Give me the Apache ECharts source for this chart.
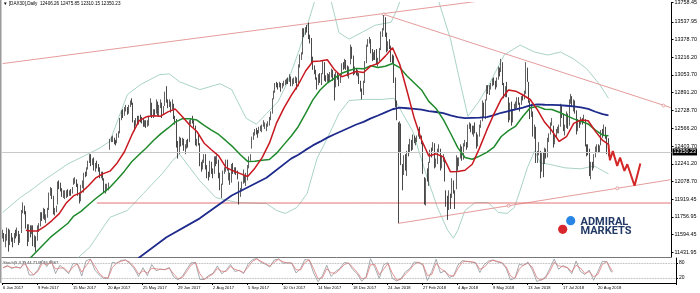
<!DOCTYPE html>
<html><head><meta charset="utf-8">
<script src="https://cdn.jsdelivr.net/npm/echarts@6/dist/echarts.min.js"></script>
<style>html,body{margin:0;padding:0;background:#fff}#c{width:700px;height:293px}</style>
</head><body><div id="c"></div>
<script>
// ---------- tick labels ----------
const symbolName = '[DAX30],Daily';
const xTickLabels = ['6 Jan 2017','9 Feb 2017','15 Mar 2017','20 Apr 2017','25 May 2017','29 Jun 2017','2 Aug 2017','5 Sep 2017','10 Oct 2017','14 Nov 2017','18 Dec 2017','24 Jan 2018','27 Feb 2018','4 Apr 2018','9 May 2018','13 Jun 2018','17 Jul 2018','20 Aug 2018'];
const xTickEvery = 24;
const yTickLabels = ['11431.95','11594.45','11756.95','11919.45','12078.70','12241.20','12403.70','12566.20','12728.70','12891.20','13053.70','13216.20','13378.70','13537.95','13758.45'];
const stochTickValues = [20, 80];
const stochLabel = 'Stoch(5,3,3) 44.7148 46.8667';

// ---------- daily candles (bar 0 = 6 Jan 2017 ... bar 418 = 3 Sep 2018) ----------
const opens = [
11590,11600,11560,11585,11640,11525,11600,11555,11545,11600,
11600,11620,11550,11620,11810,11850,11800,11670,11550,11660,
11630,11650,11510,11550,11550,11650,11680,11775,11770,11800,
11750,11770,11830,11970,11995,11940,11810,11820,11880,12070,
12050,12000,11960,11965,11970,11980,11970,11990,11990,12060,
12080,12090,12050,11960,11910,12040,12050,12150,12150,12200,
12260,12310,12250,12280,12210,12230,12220,12200,12140,12150,
12100,12000,12020,12030,12380,12460,12470,12470,12440,12440,
12510,12530,12650,12730,12690,12750,12750,12710,12770,12810,
12790,12620,12600,12640,12620,12660,12640,12620,12600,12620,
12600,12610,12690,12780,12690,12720,12720,12800,12690,12770,
12790,12700,12780,12890,12810,12780,12790,12750,12770,12650,
12640,12410,12340,12470,12440,12450,12380,12400,12440,12450,
12630,12640,12620,12580,12440,12450,12420,12230,12210,12270,
12310,12200,12160,12130,12250,12180,12160,12290,12260,12270,
12140,12000,12060,12170,12180,12260,12150,12150,12080,12230,
12170,12180,12160,12070,11960,12010,12070,12110,12100,12110,
12220,12290,12390,12480,12520,12550,12530,12540,12560,12560,
12600,12590,12580,12600,12610,12650,12710,12840,12910,12970,
12960,12960,12970,12950,12970,12980,12990,13000,13000,13030,
12990,12990,13000,13010,12960,13140,13220,13250,13460,13440,
13480,13470,13400,13380,13180,13120,13070,13020,12980,13040,
12970,13070,13160,13020,13010,13050,13000,13060,13070,13020,
12950,13050,13040,13000,13060,13150,13130,13180,13120,13060,
13160,13300,13210,13080,13100,13060,13060,12980,12900,12880,
12990,13170,13330,13370,13370,13280,13210,13250,13200,13180,
13190,13290,13430,13470,13550,13420,13300,13340,13310,13190,
13190,13000,12760,12550,12400,12580,12180,12150,12280,12200,
12380,12360,12440,12400,12480,12440,12460,12500,12530,12480,
12420,12100,11900,12120,12100,12260,12370,12380,12420,12230,
12250,12350,12370,12230,12300,12280,11990,11900,11830,11950,
11950,12080,11960,12020,12290,12250,12300,12380,12300,12420,
12420,12400,12590,12590,12560,12550,12580,12520,12440,12510,
12590,12640,12790,12680,12830,12940,12900,12940,12960,13000,
12980,12960,13020,13110,13090,13160,12960,12870,12950,12840,
12660,12770,12650,12750,12770,12790,12830,12790,12790,12850,
12850,12890,13100,12980,12800,12690,12700,12510,12570,12280,
12340,12350,12180,12300,12260,12340,12330,12470,12520,12610,
12580,12430,12500,12540,12560,12590,12750,12670,12540,12580,
12680,12600,12820,12850,12790,12810,12720,12560,12600,12610,
12640,12640,12640,12400,12360,12360,12140,12240,12220,12320,
12380,12390,12360,12420,12530,12520,12560,12490,12406.26];
const highs = [
11640,11610,11600,11660,11650,11640,11610,11570,11610,11640,
11660,11630,11600,11820,11890,11860,11810,11690,11690,11680,
11680,11680,11590,11580,11680,11700,11800,11800,11840,11830,
11780,11840,11980,12030,12020,11950,11840,11860,12080,12090,
12070,12020,12000,12000,12000,12010,12000,12010,12030,12110,
12120,12100,12060,11980,12050,12090,12160,12170,12210,12270,
12330,12330,12290,12300,12250,12270,12240,12210,12170,12170,
12110,12060,12060,12070,12470,12490,12500,12480,12460,12520,
12540,12660,12730,12740,12760,12780,12760,12780,12820,12840,
12800,12640,12660,12680,12680,12690,12670,12650,12640,12640,
12640,12680,12840,12800,12740,12740,12830,12810,12780,12830,
12800,12770,12900,12950,12830,12830,12810,12830,12790,12680,
12650,12450,12490,12480,12480,12470,12420,12460,12470,12640,
12660,12680,12640,12590,12470,12510,12430,12260,12280,12330,
12330,12230,12170,12270,12260,12200,12310,12310,12320,12280,
12160,12060,12180,12210,12280,12280,12200,12160,12240,12250,
12210,12210,12180,12080,12020,12080,12190,12130,12160,12230,
12310,12330,12490,12530,12560,12570,12550,12580,12590,12600,
12640,12620,12610,12630,12670,12720,12840,12910,12980,12990,
12980,12990,12980,12980,13000,13010,13020,13030,13060,13040,
13020,13030,13040,13030,13150,13240,13260,13480,13480,13490,
13510,13530,13420,13390,13220,13140,13100,13030,13060,13070,
13070,13180,13170,13050,13070,13060,13080,13110,13100,13060,
13080,13080,13050,13060,13160,13170,13200,13190,13140,13130,
13330,13310,13230,13130,13110,13100,13070,13000,12930,13000,
13180,13330,13380,13400,13380,13290,13260,13280,13290,13210,
13300,13450,13480,13600,13580,13440,13360,13380,13320,13240,
13230,13030,12820,12620,12630,12610,12240,12320,12330,12360,
12420,12470,12460,12510,12500,12480,12500,12560,12580,12500,
12440,12120,12110,12200,12260,12370,12390,12440,12430,12290,
12380,12420,12380,12320,12330,12300,12000,11950,12000,11970,
12110,12090,12000,12320,12300,12300,12420,12400,12430,12460,
12440,12600,12620,12610,12590,12590,12620,12530,12510,12600,
12640,12820,12800,12830,12960,12960,12960,12980,13020,13030,
13000,13030,13130,13120,13200,13170,12980,12950,12990,12850,
12800,12810,12740,12790,12810,12850,12850,12800,12860,12880,
12910,13170,13120,12990,12820,12790,12720,12600,12580,12360,
12440,12360,12340,12350,12390,12380,12480,12520,12620,12660,
12590,12510,12560,12580,12600,12790,12780,12700,12600,12720,
12700,12830,12880,12860,12830,12820,12730,12650,12630,12670,
12660,12690,12650,12420,12420,12380,12260,12260,12330,12400,
12420,12420,12410,12550,12560,12600,12580,12500,12475.85];
const lows = [
11560,11530,11480,11540,11440,11500,11530,11480,11520,11560,
11580,11500,11520,11610,11790,11780,11650,11490,11530,11570,
11600,11490,11480,11440,11540,11620,11670,11720,11740,11730,
11700,11750,11820,11950,11920,11780,11770,11800,11870,12010,
11990,11940,11930,11920,11930,11940,11950,11950,11970,12050,
12060,12030,11950,11880,11900,12020,11980,12120,12130,12190,
12250,12220,12230,12180,12170,12200,12170,12110,12110,12090,
11980,11970,11990,12000,12370,12440,12440,12420,12410,12430,
12480,12520,12640,12660,12680,12720,12690,12700,12760,12780,
12620,12540,12590,12600,12600,12620,12610,12580,12580,12570,
12580,12590,12680,12660,12660,12680,12700,12680,12670,12750,
12660,12690,12770,12800,12750,12760,12710,12740,12650,12600,
12390,12290,12330,12400,12410,12360,12330,12380,12390,12440,
12600,12610,12570,12410,12400,12410,12220,12170,12190,12250,
12190,12110,12090,12120,12150,12110,12150,12220,12240,12110,
12000,11930,12050,12150,12170,12180,12090,12050,12070,12150,
12150,12140,12100,11870,11940,11990,12060,12070,12040,12090,
12200,12270,12380,12460,12500,12510,12480,12520,12540,12530,
12580,12560,12540,12580,12590,12640,12700,12830,12890,12940,
12920,12940,12900,12930,12950,12960,12970,12970,12990,12950,
12950,12970,12980,12920,12950,13120,13190,13240,13400,13420,
13440,13380,13340,13160,13100,13060,13010,12920,12960,12980,
12960,13060,13000,12990,12990,12980,12990,13030,13000,12820,
12940,13010,12950,12980,13050,13100,13110,13100,13040,13020,
13150,13200,13050,13060,13050,13040,12970,12900,12830,12870,
12980,13160,13310,13340,13250,13180,13190,13190,13150,13130,
13180,13280,13400,13460,13400,13260,13270,13290,13170,13160,
12980,12760,12640,11700,12340,12230,12000,12140,12180,12130,
12310,12340,12360,12370,12430,12410,12440,12490,12470,12420,
12150,11870,11860,12080,12040,12250,12300,12360,12200,12210,
12240,12340,12180,12200,12260,12080,11850,11730,11820,11830,
11930,11970,11830,12010,12180,12220,12290,12270,12280,12400,
12370,12390,12560,12530,12510,12490,12520,12380,12400,12490,
12570,12630,12670,12650,12820,12880,12870,12920,12950,12960,
12920,12940,13010,13040,13080,12960,12840,12850,12850,12620,
12640,12590,12620,12730,12740,12750,12780,12720,12780,12820,
12830,12880,12990,12800,12650,12670,12490,12470,12250,12250,
12320,12110,12170,12120,12240,12290,12300,12440,12510,12590,
12390,12420,12480,12520,12520,12580,12660,12540,12500,12570,
12560,12590,12790,12760,12720,12700,12510,12540,12570,12600,
12600,12620,12400,12310,12320,12130,12100,12180,12200,12300,
12350,12340,12350,12410,12480,12500,12470,12330,12310.15];
const closes = [
11599,11563,11583,11646,11522,11629,11555,11540,11599,11597,
11630,11545,11594,11806,11848,11814,11681,11535,11659,11627,
11651,11509,11549,11543,11643,11666,11774,11771,11794,11757,
11757,11828,11967,11998,11948,11804,11823,11834,12067,12060,
12027,11958,11966,11967,11978,11963,11990,11989,12009,12083,
12095,12052,11962,11904,12040,12064,12149,12149,12203,12257,
12313,12257,12282,12218,12230,12225,12200,12139,12154,12109,
12000,12017,12027,12049,12455,12467,12473,12443,12438,12507,
12528,12648,12717,12694,12749,12757,12711,12770,12808,12804,
12631,12590,12638,12620,12659,12642,12621,12602,12629,12599,
12615,12664,12823,12690,12720,12714,12816,12690,12765,12806,
12691,12752,12889,12815,12774,12794,12733,12771,12671,12647,
12416,12325,12475,12437,12453,12381,12389,12445,12437,12627,
12641,12631,12587,12430,12452,12447,12240,12208,12264,12305,
12212,12162,12118,12251,12181,12154,12298,12258,12292,12154,
12014,12014,12165,12177,12263,12203,12165,12065,12229,12174,
12180,12168,12123,11946,12002,12056,12143,12102,12124,12215,
12296,12304,12476,12524,12553,12540,12519,12560,12561,12570,
12600,12592,12595,12605,12657,12704,12829,12902,12970,12968,
12955,12976,12949,12970,12982,12991,13004,12995,13043,12990,
12991,13003,13013,12953,13134,13217,13229,13465,13440,13478,
13469,13406,13382,13183,13127,13074,13033,12976,13047,12994,
13059,13167,13015,13008,13060,13000,13060,13062,13024,12861,
13059,13048,12999,13045,13153,13124,13183,13126,13068,13104,
13312,13215,13069,13110,13073,13070,12979,12918,12871,12978,
13167,13320,13367,13385,13281,13202,13245,13201,13184,13184,
13281,13434,13463,13560,13414,13298,13340,13324,13197,13189,
13004,12785,12687,12392,12590,12260,12107,12282,12197,12339,
12346,12451,12385,12487,12470,12461,12483,12527,12490,12435,
12190,11913,12090,12113,12245,12355,12346,12418,12221,12237,
12345,12389,12217,12307,12309,12100,11886,11787,11970,11940,
12096,12002,11957,12305,12241,12261,12397,12293,12415,12442,
12391,12585,12590,12567,12540,12572,12550,12422,12500,12580,
12612,12802,12696,12819,12948,12912,12943,12956,13001,12978,
12970,13010,13114,13077,13169,12977,12855,12938,12863,12666,
12783,12605,12724,12770,12787,12830,12811,12767,12842,12842,
12890,13107,13011,12834,12677,12695,12512,12580,12270,12334,
12349,12177,12306,12238,12349,12317,12465,12496,12609,12633,
12418,12492,12541,12561,12580,12766,12686,12561,12548,12689,
12579,12810,12860,12799,12805,12737,12546,12616,12597,12648,
12634,12676,12424,12358,12358,12163,12237,12210,12309,12384,
12385,12366,12394,12538,12527,12561,12494,12364,12350.23];

// ---------- indicator lines: [bar, value] ----------
const ma20Red = [[16,11635],[19,11629],[24,11628],[29,11670],[34,11724],[39,11787],[44,11887],[49,11951],[54,11979],[59,12040],[64,12111],[69,12150],[74,12175],[79,12250],[84,12352],[89,12503],[94,12633],[99,12671],[104,12680],[109,12677],[114,12716],[119,12742],[124,12672],[129,12596],[134,12537],[139,12430],[144,12370],[149,12314],[154,12209],[159,12178],[164,12152],[169,12126],[174,12202],[179,12298],[184,12430],[189,12616],[194,12750],[199,12864],[204,12966],[209,13089],[214,13176],[219,13181],[224,13192],[229,13100],[234,13037],[239,13061],[244,13085],[249,13075],[254,13136],[259,13157],[264,13225],[269,13302],[274,13149],[279,12907],[284,12657],[289,12459],[294,12314],[299,12333],[304,12305],[309,12169],[314,12171],[319,12183],[324,12238],[329,12385],[334,12549],[339,12698],[344,12832],[349,12915],[354,12905],[359,12870],[364,12829],[369,12734],[374,12621],[379,12543],[384,12446],[389,12489],[394,12611],[399,12642],[404,12635],[409,12538],[414,12455],[418,12419]];
const ma50Green = [[19,11382],[33,11572],[45,11699],[49,11765],[54,11808],[59,11866],[64,11923],[69,11974],[74,12027],[79,12098],[84,12175],[89,12260],[94,12325],[99,12386],[104,12455],[109,12515],[114,12567],[119,12623],[124,12654],[129,12653],[134,12641],[139,12593],[144,12549],[149,12510],[154,12453],[159,12394],[164,12324],[169,12264],[174,12265],[179,12274],[184,12281],[189,12339],[194,12417],[199,12494],[204,12583],[209,12703],[214,12826],[219,12916],[224,12979],[229,13024],[234,13069],[239,13094],[244,13113],[249,13109],[254,13137],[259,13121],[264,13133],[269,13157],[274,13120],[279,13044],[284,12980],[289,12916],[294,12812],[299,12747],[304,12648],[309,12521],[314,12390],[319,12299],[324,12284],[329,12312],[334,12347],[339,12395],[344,12491],[349,12545],[354,12587],[359,12676],[364,12754],[369,12766],[374,12740],[379,12738],[384,12713],[389,12682],[394,12652],[399,12629],[404,12605],[409,12549],[414,12503],[418,12497]];
const ma200Blue = [[90,11345],[113,11572],[136,11744],[158,11952],[182,12114],[199,12289],[204,12325],[209,12369],[214,12410],[219,12444],[224,12481],[229,12512],[234,12541],[239,12571],[244,12601],[249,12625],[254,12657],[259,12683],[264,12712],[269,12740],[274,12755],[279,12749],[284,12743],[289,12736],[294,12723],[299,12715],[304,12705],[309,12685],[314,12668],[319,12659],[324,12662],[329,12664],[334,12669],[339,12686],[344,12708],[349,12724],[354,12739],[359,12755],[364,12776],[369,12784],[374,12781],[379,12780],[384,12777],[389,12772],[394,12767],[399,12757],[404,12744],[409,12717],[414,12695],[418,12683]];
const bbUpper = [[0,11798],[12,11933],[21,12015],[28,12087],[38,12178],[45,12241],[56,12313],[67,12386],[74,12449],[86,12874],[95,12964],[108,13055],[115,13063],[122,12991],[136,12919],[150,12973],[158,12919],[168,12657],[175,12603],[182,12700],[190,12810],[197,13000],[204,13260],[210,13500],[216,13760],[226,13760],[232,13440],[239,13380],[248,13443],[257,13507],[268,13534],[272,13650],[275,13760],[300,13760],[309,13380],[316,12964],[321,12675],[328,12800],[335,12950],[346,13235],[357,13326],[367,13262],[376,13235],[385,13262],[394,13199],[403,13109],[412,12964],[418,12840]];
const bbLower = [[51,11373],[60,11480],[74,11753],[86,11816],[97,11970],[110,12151],[117,12268],[122,12331],[136,12087],[147,11934],[162,11888],[182,11879],[189,11816],[195,11789],[203,11843],[210,11970],[217,12295],[223,12449],[232,12700],[239,12820],[250,12830],[261,12829],[270,12840],[276,12700],[283,12539],[292,12151],[300,11843],[307,11635],[311,11563],[314,11635],[319,11816],[326,11888],[335,11888],[342,11798],[348,11789],[353,11843],[357,11997],[362,12205],[367,12358],[371,12250],[376,12241],[388,12205],[399,12196],[408,12223],[418,12150]];
const stochMain = [[0,60],[3,71],[6,58],[9,65],[12,59],[15,88],[18,32],[21,32],[24,54],[27,91],[30,66],[33,92],[36,38],[39,71],[42,55],[45,37],[48,78],[51,76],[54,28],[57,89],[60,96],[63,52],[66,32],[69,18],[72,19],[75,83],[78,79],[81,91],[84,92],[87,78],[90,57],[93,26],[96,61],[99,30],[102,74],[105,49],[108,56],[111,53],[114,62],[117,25],[120,13],[123,27],[126,55],[129,81],[132,82],[135,14],[138,14],[141,30],[144,39],[147,68],[150,37],[153,51],[156,74],[159,46],[162,51],[165,38],[168,75],[171,93],[174,98],[177,82],[180,75],[183,64],[186,92],[189,96],[192,79],[195,81],[198,79],[201,40],[204,58],[207,94],[210,92],[213,40],[216,5],[219,29],[222,71],[225,26],[228,46],[231,58],[234,82],[237,79],[240,53],[243,36],[246,7],[249,26],[252,97],[255,62],[258,18],[261,73],[264,81],[267,18],[270,8],[273,19],[276,45],[279,57],[282,84],[285,82],[288,71],[291,10],[294,46],[297,95],[300,40],[303,49],[306,22],[309,29],[312,72],[315,90],[318,86],[321,84],[324,81],[327,42],[330,74],[333,88],[336,92],[339,84],[342,81],[345,59],[348,12],[351,19],[354,75],[357,70],[360,84],[363,53],[366,6],[369,13],[372,24],[375,58],[378,96],[381,55],[384,70],[387,60],[390,37],[393,88],[396,46],[399,34],[402,52],[405,11],[408,47],[411,87],[414,86],[417,45],[418,44.71]];
const stochSignal = [[0,62],[3,67],[6,62],[9,63],[12,61],[15,78],[18,51],[21,32],[24,47],[27,79],[30,74],[33,83],[36,56],[39,60],[42,60],[45,43],[48,64],[51,77],[54,44],[57,69],[60,94],[63,67],[66,39],[69,23],[72,19],[75,62],[78,80],[81,87],[84,92],[87,83],[90,64],[93,36],[96,49],[99,40],[102,59],[105,57],[108,54],[111,54],[114,59],[117,37],[120,17],[123,22],[126,46],[129,72],[132,82],[135,37],[138,14],[141,25],[144,36],[147,58],[150,47],[153,46],[156,66],[159,55],[162,49],[165,42],[168,63],[171,87],[174,96],[177,87],[180,77],[183,68],[186,83],[189,95],[192,85],[195,80],[198,80],[201,53],[204,52],[207,82],[210,93],[213,57],[216,17],[219,21],[222,57],[225,41],[228,39],[231,54],[234,74],[237,80],[240,62],[243,42],[246,17],[249,20],[252,73],[255,74],[258,33],[261,55],[264,78],[267,39],[270,11],[273,15],[276,36],[279,53],[282,75],[285,83],[288,75],[291,30],[294,34],[297,79],[300,58],[303,46],[306,31],[309,27],[312,58],[315,84],[318,87],[321,85],[324,82],[327,55],[330,63],[333,83],[336,91],[339,87],[342,82],[345,66],[348,28],[351,17],[354,56],[357,72],[360,79],[363,63],[366,22],[369,11],[372,20],[375,47],[378,83],[381,69],[384,65],[387,63],[390,45],[393,71],[396,60],[399,38],[402,46],[405,25],[408,35],[411,74],[414,86],[417,56],[418,46.87]];

// ---------- drawn objects ----------
const trendUpper = [[0,13157],[330,13730]];
const trendDown = [[263,13606],[461,12755]];
const trendRising = [[273,11698],[461,12097]];
const supportLine = [[65,11884],[461,11884]];
const trendAnchors = [[263,13606],[456,12774],[349,11859],[424,12018]];
const projection = [[418,12419],[419,12274],[421,12358],[424,12223],[426,12298],[429,12178],[431,12238],[436,12042],[440,12244]];

// ---------- build ----------
const N_SLOTS = 462;
const categories = Array.from({length: N_SLOTS}, (_, i) => String(i));
const candles = opens.map((o, i) => [o, closes[i], lows[i], highs[i]]);
const last = opens.length - 1;
const lastClose = closes[last];
const yMax = 13714.5, yMin = 11391.2;
const yTickValues = yTickLabels.map(s => Math.min(parseFloat(s), yMax));
const FONT = 'Liberation Sans, Arial, sans-serif';
const isTick = (i) => i % xTickEvery === 0 && i / xTickEvery < xTickLabels.length;

const lineS = (name, data, color, width, z, extra) => Object.assign({
  name, type: 'line', data, xAxisIndex: 0, yAxisIndex: 0, showSymbol: false, symbol: 'none',
  lineStyle: { color, width }, z, silent: true, animation: false
}, extra || {});

const chart = echarts.init(document.getElementById('c'), null, { renderer: 'canvas' });
chart.setOption({
  animation: false,
  backgroundColor: '#ffffff',
  grid: [
    { left: 2, right: 24, top: 0, height: 257 },
    { left: 2, right: 24, top: 258, height: 25 }
  ],
  xAxis: [
    { type: 'category', gridIndex: 0, data: categories, boundaryGap: true,
      axisLine: { show: true, lineStyle: { color: '#777', width: 1 } },
      axisTick: { show: false }, axisLabel: { show: false }, splitLine: { show: false } },
    { type: 'category', gridIndex: 1, data: categories, boundaryGap: true,
      axisLine: { show: true, lineStyle: { color: '#000', width: 1 } },
      axisTick: { show: true, length: 2, interval: (i) => isTick(i), lineStyle: { color: '#000' } },
      axisLabel: { show: true, interval: (i) => isTick(i), align: 'left', margin: 2.5,
        formatter: (v, i) => xTickLabels[i / xTickEvery] || '', fontSize: 4.1, color: '#000', fontFamily: FONT },
      splitLine: { show: false } }
  ],
  yAxis: [
    { type: 'value', gridIndex: 0, position: 'right', min: yMin, max: yMax, scale: true,
      axisLine: { show: true, lineStyle: { color: '#000', width: 1 } },
      axisTick: { show: true, length: 2, customValues: yTickValues, lineStyle: { color: '#000' } },
      axisLabel: { show: true, customValues: yTickValues, margin: 3, fontSize: 5.4, color: '#000', fontFamily: FONT,
        formatter: (v) => v >= yMax ? yTickLabels[yTickLabels.length - 1] : v.toFixed(2) },
      splitLine: { show: false } },
    { type: 'value', gridIndex: 1, position: 'right', min: 0, max: 100,
      axisLine: { show: true, lineStyle: { color: '#000', width: 1 } },
      axisTick: { show: true, length: 2, customValues: stochTickValues, lineStyle: { color: '#000' } },
      axisLabel: { show: true, customValues: stochTickValues, margin: 3, fontSize: 5, color: '#000', fontFamily: FONT },
      splitLine: { show: false } }
  ],
  series: [
    lineS('BB upper', bbUpper, '#a9d3c6', 1, 2),
    lineS('BB lower', bbLower, '#a9d3c6', 1, 2),
    lineS('Trend upper', trendUpper, '#e59c9c', 1, 3),
    lineS('Trend down', trendDown, '#e59c9c', 1, 3),
    lineS('Trend rising', trendRising, '#e59c9c', 1, 3),
    lineS('Support', supportLine, '#e57373', 1, 3),
    { name: 'Trend anchors', type: 'scatter', xAxisIndex: 0, yAxisIndex: 0, data: trendAnchors, symbol: 'circle', symbolSize: 3,
      itemStyle: { color: '#ffffff', borderColor: '#d98080', borderWidth: 0.8 }, z: 3, silent: true },
    {
      name: symbolName, type: 'candlestick', xAxisIndex: 0, yAxisIndex: 0, data: candles, z: 4,
      barWidth: '75%', silent: true, animation: false,
      itemStyle: { color: '#9a9a9a', color0: '#1a1a1a', borderColor: '#3a3a3a', borderColor0: '#1a1a1a', borderWidth: 0.8 },
      markLine: { silent: true, symbol: ['none', 'none'], animation: false,
        data: [{ yAxis: lastClose, lineStyle: { color: '#c8c8c8', width: 1, type: 'solid' },
          label: { show: true, position: 'end', distance: 1, formatter: lastClose.toFixed(2),
            backgroundColor: '#000', color: '#fff', fontSize: 5.4, padding: [1, 1], fontFamily: FONT } }] }
    },
    lineS('MA 200', ma200Blue, '#1e2a8c', 1.8, 5),
    lineS('MA 50', ma50Green, '#1f8a2c', 1.5, 6),
    lineS('MA 20', ma20Red, '#c8181f', 1.5, 7),
    lineS('Projection', projection, '#d42828', 2, 8),
    { name: 'Stoch main', type: 'line', xAxisIndex: 1, yAxisIndex: 1, data: stochMain, showSymbol: false, symbol: 'none',
      lineStyle: { color: '#8f969c', width: 0.8 }, silent: true, z: 3,
      markLine: { silent: true, symbol: ['none', 'none'], label: { show: false },
        lineStyle: { color: '#9a9a9a', type: 'dotted', width: 0.8 },
        data: stochTickValues.map(v => ({ yAxis: v })) } },
    { name: 'Stoch signal', type: 'line', xAxisIndex: 1, yAxisIndex: 1, data: stochSignal, showSymbol: false, symbol: 'none',
      lineStyle: { color: '#e07a7a', width: 0.8 }, silent: true, z: 4 }
  ],
  graphic: [
    { type: 'rect', shape: { x: 0, y: 0, width: 1.5, height: 283 }, style: { fill: '#9a9a9a' }, silent: true },
    { type: 'text', x: 3, y: 4, style: { text: '\u25BC ' + symbolName + '  ' + [opens[last], highs[last], lows[last], closes[last]].map(v => v.toFixed(2)).join(' '),
      font: '4.6px ' + FONT, fill: '#000', verticalAlign: 'middle' }, silent: true },
    { type: 'text', x: 3, y: 262.5, style: { text: stochLabel, font: '4.2px ' + FONT, fill: '#333', verticalAlign: 'middle' }, silent: true },
    { type: 'circle', shape: { cx: 570.7, cy: 220.7, r: 4.6 }, style: { fill: '#2a86e4' }, silent: true },
    { type: 'circle', shape: { cx: 562.7, cy: 229.3, r: 4.6 }, style: { fill: '#d8262d' }, silent: true },
    { type: 'text', x: 580.5, y: 222, style: { text: 'ADMIRAL', font: 'bold 11px Roboto, sans-serif', fill: '#233a66', verticalAlign: 'middle' }, silent: true },
    { type: 'text', x: 580.5, y: 231, style: { text: 'MARKETS', font: 'bold 11px Roboto, sans-serif', fill: '#233a66', verticalAlign: 'middle' }, silent: true }
  ]
});
</script></body></html>
